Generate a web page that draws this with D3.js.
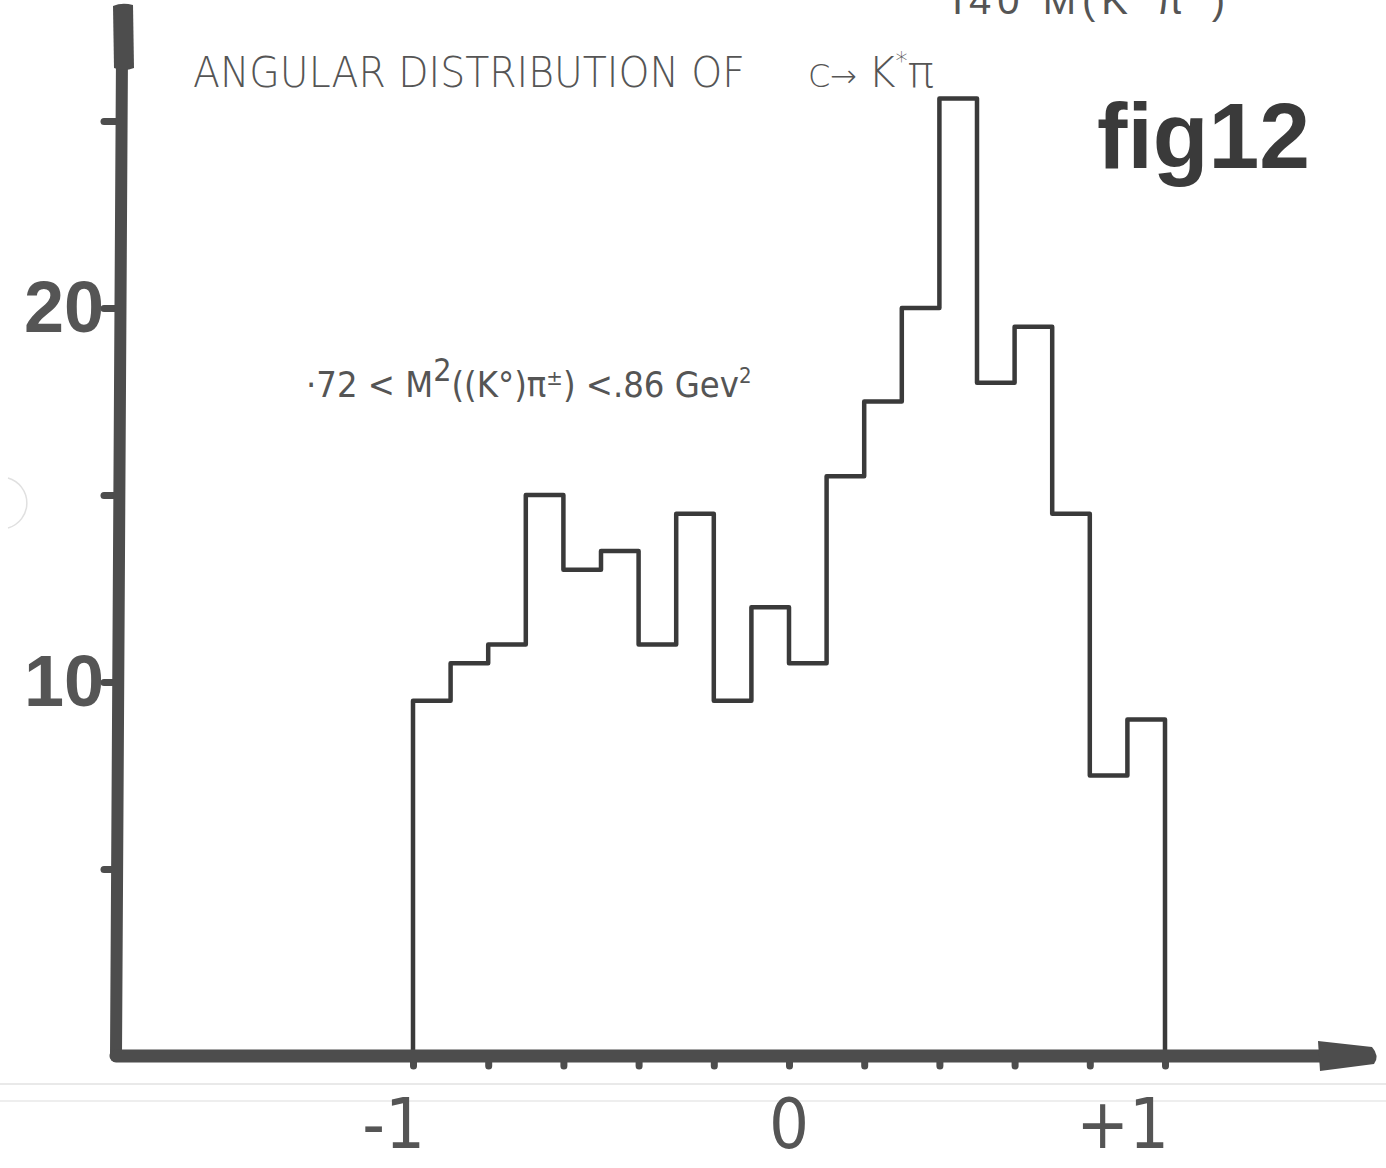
<!DOCTYPE html>
<html><head><meta charset="utf-8">
<script src="https://cdn.jsdelivr.net/npm/d3@7"></script>
<style>html,body{margin:0;padding:0;background:#fff;} svg{display:block;}</style>
</head><body>
<script>
// ---- data ----
const binEdges = [-1.0,-0.9,-0.8,-0.7,-0.6,-0.5,-0.4,-0.3,-0.2,-0.1,0.0,0.1,0.2,0.3,0.4,0.5,0.6,0.7,0.8,0.9,1.0];
const counts   = [9.5,10.5,11,15,13,13.5,11,14.5,9.5,12,10.5,15.5,17.5,20,25.6,18,19.5,14.5,7.5,9];
const yTickValues = [5,10,15,20,25];
const yTickLabels = ["","10","","20",""];
const xTickValues = [-1,-0.8,-0.6,-0.4,-0.2,0,0.2,0.4,0.6,0.8,1];
const xLabelValues = [-1,0,1];
const xLabelTexts  = ["-1","0","+1"];
const titleText = "ANGULAR DISTRIBUTION OF";
const figText = "fig12";

const W = 1386, H = 1168;
const svg = d3.select("body").append("svg").attr("width", W).attr("height", H);
svg.append("rect").attr("width", W).attr("height", H).attr("fill", "#fff");

const x = d3.scaleLinear().domain([-1, 1]).range([413, 1165]);
const y = d3.scaleLinear().domain([0, 20]).range([1056, 308]);
const axisX = 116;
const ink = "#4d4d4d";

// faint paper edges
svg.append("line").attr("x1",0).attr("x2",W).attr("y1",1084).attr("y2",1084).attr("stroke","#e2e2e2").attr("stroke-width",1.5);
svg.append("line").attr("x1",0).attr("x2",W).attr("y1",1101).attr("y2",1101).attr("stroke","#e8e8e8").attr("stroke-width",1.5);
svg.append("path").attr("d","M8,478 A26,26 0 0 1 8,528").attr("fill","none").attr("stroke","#e0e0e0").attr("stroke-width",1.5);

// cut-off handwriting at the top edge of the scan
svg.append("text").attr("x",952).attr("y",14).attr("font-family","Liberation Sans, Arial, sans-serif")
  .attr("font-size",40).attr("fill","#555").attr("letter-spacing",6).text("I40   M(K°π°)");

// histogram outline
const pts = [[binEdges[0], 0]];
counts.forEach((c, i) => { pts.push([binEdges[i], c]); pts.push([binEdges[i+1], c]); });
pts.push([binEdges[binEdges.length-1], 0]);
svg.append("path").datum(pts)
  .attr("d", d3.line().x(d => x(d[0])).y(d => y(d[1])))
  .attr("fill","none").attr("stroke","#3a3a3a").attr("stroke-width",4.5)
  .attr("stroke-linejoin","round").attr("stroke-linecap","round");

// y axis
const gy = svg.append("g").attr("transform", `translate(${axisX},0)`)
  .call(d3.axisLeft(y).tickValues(yTickValues).tickSize(12).tickPadding(0)
    .tickFormat((d, i) => yTickLabels[i]));
gy.select(".domain").remove();
gy.selectAll(".tick line").attr("stroke", ink).attr("stroke-width", 7).attr("stroke-linecap","round");
gy.selectAll(".tick text").attr("font-family","Liberation Sans, Arial, sans-serif")
  .attr("font-size",72).attr("font-weight","bold").attr("fill","#555").attr("dy","0.33em");
gy.append("line").attr("x1",0).attr("x2",6).attr("y1",y(0)).attr("y2",y(26.8))
  .attr("stroke",ink).attr("stroke-width",12).attr("stroke-linecap","round");
gy.append("path").attr("d","M-3,6 Q6,2 17,5 L18,68 Q8,72 -2,68 Z").attr("fill",ink);

// x axis
const gx = svg.append("g").attr("transform", `translate(0,${y(0)})`)
  .call(d3.axisBottom(x).tickValues(xTickValues).tickSize(10).tickFormat(""));
gx.select(".domain").remove();
gx.selectAll(".tick line").attr("stroke", ink).attr("stroke-width", 7).attr("stroke-linecap","round");
gx.append("line").attr("x1",axisX).attr("x2",1325).attr("y1",0).attr("y2",0)
  .attr("stroke",ink).attr("stroke-width",13).attr("stroke-linecap","round");
gx.append("path").attr("d","M1318,-15 L1372,-9 Q1380,0 1374,8 L1320,15 Z").attr("fill",ink);

// x labels
const xAnchors = ["end","middle","end"];
const xShift = [12, 0, 4];
svg.append("g").selectAll("text").data(xLabelValues).join("text")
  .attr("x", (d, i) => x(d) + xShift[i])
  .attr("y", 1148)
  .attr("text-anchor",(d, i) => xAnchors[i])
  .attr("font-family","DejaVu Sans Condensed, Liberation Sans, sans-serif")
  .attr("font-size",70).attr("fill","#555")
  .text((d, i) => xLabelTexts[i]);

// title
const t = svg.append("text").attr("x",193).attr("y",87)
  .attr("font-family","DejaVu Sans, sans-serif").attr("font-weight",200)
  .attr("font-size",42).attr("fill","#555");
t.append("tspan").attr("textLength",552).attr("lengthAdjust","spacingAndGlyphs").text(titleText);
t.append("tspan").attr("x",808).attr("font-size",32).text("C");
t.append("tspan").attr("x",830).attr("font-size",32).text("\u2192");
t.append("tspan").attr("x",868).attr("font-size",42).text("K");
t.append("tspan").attr("font-size",24).attr("dy",-18).text("*");
t.append("tspan").attr("font-size",44).attr("dy",18).text("\u03c0");

// fig 12
svg.append("text").attr("x",1097).attr("y",168)
  .attr("font-family","Liberation Sans, Arial, sans-serif")
  .attr("font-weight","bold").attr("font-size",92).attr("fill","#3a3a3a")
  .attr("textLength",213).attr("lengthAdjust","spacingAndGlyphs")
  .text(figText);

// mass-window annotation
const a = svg.append("text").attr("x",306).attr("y",397)
  .attr("font-family","DejaVu Sans Condensed, Liberation Sans, sans-serif")
  .attr("font-size",36).attr("fill","#555");
a.append("tspan").text("·72 < M");
a.append("tspan").attr("font-size",32).attr("dy",-16).text("2");
a.append("tspan").attr("dy",16).text("((K°)π");
a.append("tspan").attr("font-size",22).attr("dy",-12).text("±");
a.append("tspan").attr("dy",12).text(") <.86  Gev");
a.append("tspan").attr("font-size",22).attr("dy",-14).text("2");
</script>
</body></html>
